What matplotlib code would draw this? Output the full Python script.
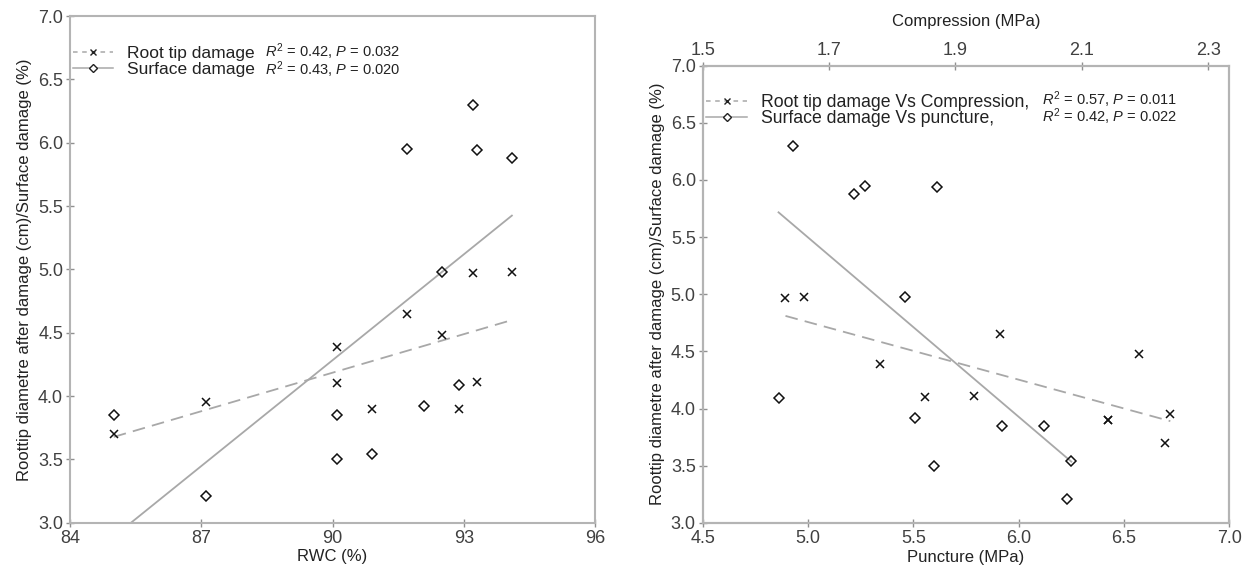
import numpy as np
import matplotlib
matplotlib.use("Agg")
import matplotlib.pyplot as plt
from matplotlib.lines import Line2D

plt.rcParams['font.family'] = ['Liberation Sans', 'DejaVu Sans']
plt.rcParams['mathtext.fontset'] = 'custom'
plt.rcParams['mathtext.rm'] = 'Liberation Sans'
plt.rcParams['mathtext.it'] = 'Liberation Sans:italic'

# ---- Left panel data: damage vs RWC ----
rwc_root = [85.0, 87.1, 90.1, 90.1, 90.9, 91.7, 92.5, 93.2, 94.1, 93.3, 92.9]
root_tip = [3.70, 3.95, 4.39, 4.10, 3.90, 4.65, 4.48, 4.97, 4.98, 4.11, 3.90]
rwc_surf = [85.0, 87.1, 90.1, 90.1, 90.9, 93.2, 91.7, 93.3, 94.1, 92.5, 92.9, 92.1]
surface = [3.85, 3.21, 3.85, 3.50, 3.54, 6.30, 5.95, 5.94, 5.88, 4.98, 4.09, 3.92]

# ---- Right panel data ----
compression = [1.631, 1.661, 1.781, 1.851, 1.970, 2.190, 1.930, 2.141, 2.240, 2.231, 2.141]
root_tip_c = [4.97, 4.98, 4.39, 4.10, 4.65, 4.48, 4.11, 3.90, 3.95, 3.70, 3.90]
puncture = [4.93, 5.22, 5.27, 5.61, 5.46, 4.86, 5.51, 5.60, 5.92, 6.12, 6.25, 6.23]
surface_p = [6.30, 5.88, 5.95, 5.94, 4.98, 4.09, 3.92, 3.50, 3.85, 3.85, 3.54, 3.21]

left_labels = ["Root tip damage", "Surface damage"]
left_stats = [r"$\mathit{R}^2$ = 0.42, $\mathit{P}$ = 0.032",
              r"$\mathit{R}^2$ = 0.43, $\mathit{P}$ = 0.020"]
right_labels = ["Root tip damage Vs Compression,", "Surface damage Vs puncture,"]
right_stats = [r"$\mathit{R}^2$ = 0.57, $\mathit{P}$ = 0.011",
               r"$\mathit{R}^2$ = 0.42, $\mathit{P}$ = 0.022"]
ylabel = "Roottip diametre after damage (cm)/Surface damage (%)"

W, H = 1252, 571
fig = plt.figure(figsize=(W / 100, H / 100), dpi=100)

SPINE = '#b4b4b4'
LINEC = '#a8a8a8'
TXT = '#222222'
TICKC = '#404040'


def style(ax):
    for s in ax.spines.values():
        s.set_color(SPINE)
        s.set_linewidth(1.5)
    ax.tick_params(direction='inout', length=6, width=1, color='#909090',
                   labelsize=13, labelcolor=TICKC, pad=2)


def fit_line(ax, x, y, ls):
    x = np.asarray(x); y = np.asarray(y)
    k, b = np.polyfit(x, y, 1)
    xx = np.array([x.min(), x.max()])
    ax.plot(xx, k * xx + b, color=LINEC, lw=1.3, ls=ls,
            dashes=(7, 4) if ls == '--' else (None, None), zorder=2)


handles = [Line2D([], [], color=LINEC, ls='--', dashes=(3, 3), lw=1.1, marker='x', ms=5, mec='#222', mew=1),
           Line2D([], [], color=LINEC, ls='-', lw=1.1, marker='D', ms=4, mfc='white', mec='#222', mew=1)]

# ---------------- Left ----------------
ax1 = fig.add_axes([70 / W, 1 - 522.7 / H, 525 / W, 506.7 / H])
style(ax1)
ax1.set_xlim(84, 96)
ax1.set_ylim(3.0, 7.0)
ax1.set_xticks([84, 87, 90, 93, 96])
ax1.set_yticks(np.arange(3.0, 7.01, 0.5))
ax1.set_yticklabels([f"{v:.1f}" for v in np.arange(3.0, 7.01, 0.5)])
fit_line(ax1, rwc_root, root_tip, '--')
fit_line(ax1, rwc_surf, surface, '-')
ax1.plot(rwc_root, root_tip, ls='none', marker='x', ms=6, mew=1.1, color='#111111', zorder=3)
ax1.plot(rwc_surf, surface, ls='none', marker='D', ms=5, mew=1.1, mfc='none', mec='#111111', zorder=3)
ax1.set_xlabel("RWC (%)", fontsize=12, color=TXT, labelpad=2)
ax1.set_ylabel(ylabel, fontsize=12, color=TXT, labelpad=4)

leg1 = ax1.legend(handles, left_labels, loc='upper left', bbox_to_anchor=(0.0, 0.947),
                  frameon=False, fontsize=12.5, handlelength=2.3, handletextpad=0.8,
                  labelspacing=0.0, borderpad=0, borderaxespad=0.2)
for t in leg1.get_texts():
    t.set_color(TXT)
ax1.text(0.371, 0.911, "\n".join(left_stats), transform=ax1.transAxes, fontsize=10.5,
         color=TXT, va='center', ha='left', linespacing=0.84)

# ---------------- Right ----------------
ax2 = fig.add_axes([702.7 / W, 1 - 522.8 / H, 526.6 / W, 457.1 / H])
style(ax2)
ax2.set_xlim(4.5, 7.0)
ax2.set_ylim(3.0, 7.0)
ax2.set_xticks(np.arange(4.5, 7.01, 0.5))
ax2.set_xticklabels([f"{v:.1f}" for v in np.arange(4.5, 7.01, 0.5)])
ax2.set_yticks(np.arange(3.0, 7.01, 0.5))
ax2.set_yticklabels([f"{v:.1f}" for v in np.arange(3.0, 7.01, 0.5)])
ax2.set_xlabel("Puncture (MPa)", fontsize=12, color=TXT, labelpad=2)
ax2.set_ylabel(ylabel, fontsize=12, color=TXT, labelpad=4)

ax3 = ax2.twiny()
style(ax3)
ax3.set_xlim(1.5, 1.5 + 2.5 / 3)
ax3.set_xticks([1.5, 1.7, 1.9, 2.1, 2.3])
ax3.set_xticklabels(["1.5", "1.7", "1.9", "2.1", "2.3"])
ax3.set_xlabel("Compression (MPa)", fontsize=12, color=TXT, labelpad=11)

fit_line(ax3, compression, root_tip_c, '--')
fit_line(ax2, puncture, surface_p, '-')
ax3.plot(compression, root_tip_c, ls='none', marker='x', ms=6, mew=1.1, color='#111111', zorder=3)
ax2.plot(puncture, surface_p, ls='none', marker='D', ms=5, mew=1.1, mfc='none', mec='#111111', zorder=3)

leg2 = ax3.legend(handles, right_labels, loc='upper left', bbox_to_anchor=(0.0, 0.946),
                  frameon=False, fontsize=12.7, handlelength=2.3, handletextpad=0.8,
                  labelspacing=-0.05, borderpad=0, borderaxespad=0.2)
for t in leg2.get_texts():
    t.set_color(TXT)
ax3.text(0.644, 0.9075, "\n".join(right_stats), transform=ax3.transAxes, fontsize=10.5,
         color=TXT, va='center', ha='left', linespacing=0.78)

fig.savefig("out.png", dpi=100)
